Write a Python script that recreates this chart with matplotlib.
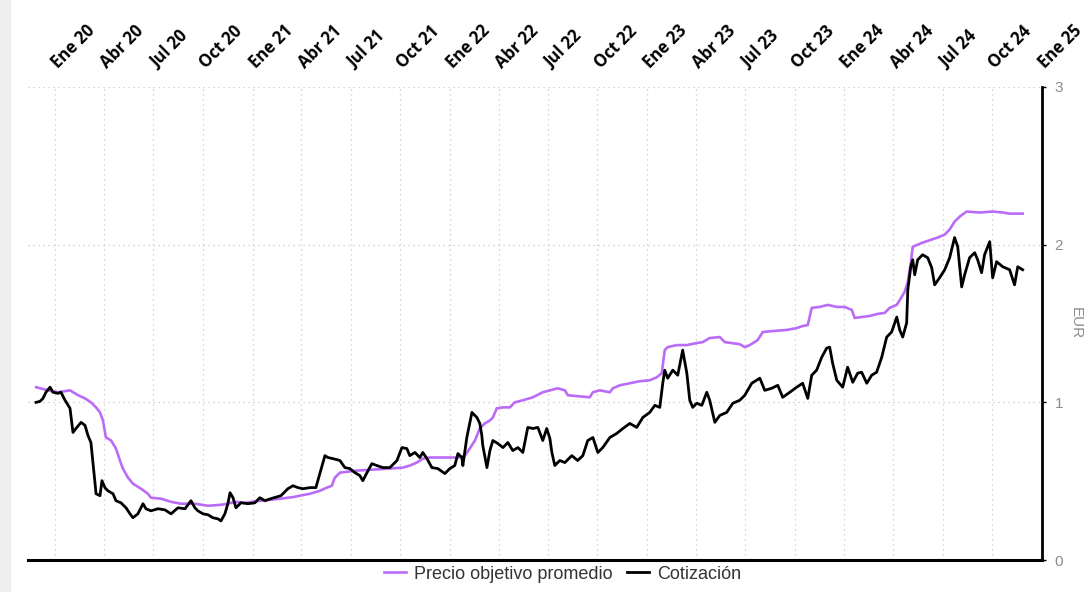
import numpy as np
import matplotlib
matplotlib.use("Agg")
import matplotlib.pyplot as plt
import matplotlib.patches as mpatches
import matplotlib.transforms as mtransforms

# ---- data (decimal years, EUR) ----
cot_t = [2019.904, 2019.924, 2019.939, 2019.954, 2019.975, 2019.990, 2020.015, 2020.030, 2020.051, 2020.076,
         2020.091, 2020.106, 2020.132, 2020.152, 2020.167, 2020.182, 2020.193, 2020.203, 2020.208, 2020.228,
         2020.238, 2020.253, 2020.268, 2020.294, 2020.309, 2020.334, 2020.360, 2020.380, 2020.395, 2020.420,
         2020.446, 2020.461, 2020.486, 2020.522, 2020.557, 2020.588, 2020.623, 2020.659, 2020.689, 2020.709,
         2020.724, 2020.750, 2020.775, 2020.800, 2020.826, 2020.841, 2020.861, 2020.876, 2020.887, 2020.902,
         2020.917, 2020.942, 2020.978, 2021.013, 2021.038, 2021.064, 2021.094, 2021.145, 2021.180, 2021.206,
         2021.231, 2021.256, 2021.292, 2021.322, 2021.342, 2021.368, 2021.383, 2021.408, 2021.444, 2021.469,
         2021.494, 2021.520, 2021.545, 2021.560, 2021.581, 2021.606, 2021.631, 2021.662, 2021.697, 2021.733,
         2021.758, 2021.783, 2021.798, 2021.824, 2021.849, 2021.864, 2021.885, 2021.910, 2021.940, 2021.976,
         2022.001, 2022.026, 2022.042, 2022.062, 2022.067, 2022.087, 2022.113, 2022.138, 2022.153, 2022.163,
         2022.168, 2022.189, 2022.204, 2022.219, 2022.244, 2022.270, 2022.295, 2022.320, 2022.346, 2022.371,
         2022.396, 2022.422, 2022.447, 2022.472, 2022.492, 2022.508, 2022.518, 2022.533, 2022.558, 2022.584,
         2022.619, 2022.649, 2022.675, 2022.700, 2022.726, 2022.751, 2022.776, 2022.812, 2022.847, 2022.878,
         2022.913, 2022.948, 2022.979, 2023.014, 2023.040, 2023.065, 2023.080, 2023.090, 2023.105, 2023.131,
         2023.156, 2023.181, 2023.202, 2023.217, 2023.232, 2023.252, 2023.278, 2023.303, 2023.318, 2023.344,
         2023.369, 2023.404, 2023.435, 2023.470, 2023.496, 2023.531, 2023.572, 2023.597, 2023.632, 2023.663,
         2023.688, 2023.724, 2023.759, 2023.789, 2023.815, 2023.835, 2023.860, 2023.886, 2023.911, 2023.926,
         2023.941, 2023.962, 2023.992, 2024.017, 2024.043, 2024.068, 2024.088, 2024.114, 2024.139, 2024.164,
         2024.190, 2024.215, 2024.240, 2024.266, 2024.281, 2024.296, 2024.316, 2024.322, 2024.337, 2024.347,
         2024.357, 2024.372, 2024.397, 2024.423, 2024.443, 2024.458, 2024.483, 2024.509, 2024.534, 2024.559,
         2024.575, 2024.595, 2024.610, 2024.635, 2024.661, 2024.676, 2024.696, 2024.711, 2024.737, 2024.752,
         2024.772, 2024.803, 2024.838, 2024.863, 2024.879, 2024.904]
cot_v = [1.000, 1.006, 1.025, 1.064, 1.096, 1.064, 1.057, 1.064, 1.013, 0.962,
         0.809, 0.834, 0.873, 0.854, 0.790, 0.745, 0.611, 0.484, 0.420, 0.408,
         0.503, 0.459, 0.439, 0.420, 0.376, 0.363, 0.331, 0.293, 0.268, 0.293,
         0.357, 0.325, 0.312, 0.325, 0.318, 0.293, 0.331, 0.325, 0.376, 0.331,
         0.312, 0.293, 0.287, 0.268, 0.261, 0.248, 0.293, 0.357, 0.427, 0.395,
         0.331, 0.363, 0.357, 0.363, 0.395, 0.376, 0.389, 0.408, 0.452, 0.471,
         0.459, 0.452, 0.459, 0.459, 0.548, 0.662, 0.650, 0.643, 0.631, 0.586,
         0.580, 0.554, 0.535, 0.503, 0.554, 0.611, 0.599, 0.586, 0.586, 0.631,
         0.713, 0.707, 0.662, 0.682, 0.650, 0.682, 0.643, 0.586, 0.580, 0.548,
         0.580, 0.599, 0.675, 0.650, 0.599, 0.777, 0.936, 0.904, 0.866, 0.790,
         0.726, 0.586, 0.694, 0.758, 0.739, 0.713, 0.745, 0.694, 0.713, 0.682,
         0.841, 0.834, 0.841, 0.758, 0.834, 0.771, 0.682, 0.599, 0.631, 0.618,
         0.662, 0.631, 0.662, 0.758, 0.777, 0.682, 0.713, 0.777, 0.803, 0.834,
         0.866, 0.841, 0.904, 0.936, 0.981, 0.968, 1.121, 1.204, 1.153, 1.204,
         1.172, 1.331, 1.185, 1.013, 0.968, 0.994, 0.981, 1.064, 1.013, 0.873,
         0.917, 0.936, 0.994, 1.013, 1.045, 1.121, 1.153, 1.076, 1.089, 1.108,
         1.032, 1.064, 1.096, 1.121, 1.025, 1.172, 1.204, 1.287, 1.344, 1.350,
         1.248, 1.140, 1.096, 1.223, 1.127, 1.185, 1.191, 1.121, 1.172, 1.191,
         1.287, 1.414, 1.446, 1.541, 1.459, 1.414, 1.503, 1.713, 1.860, 1.904,
         1.809, 1.904, 1.936, 1.917, 1.854, 1.745, 1.790, 1.841, 1.917, 2.045,
         1.987, 1.732, 1.809, 1.917, 1.949, 1.904, 1.822, 1.936, 2.019, 1.790,
         1.892, 1.860, 1.841, 1.745, 1.860, 1.841]

obj_t = [2019.904, 2019.965, 2020.015, 2020.076, 2020.117, 2020.152, 2020.182, 2020.208, 2020.228, 2020.243,
         2020.258, 2020.284, 2020.309, 2020.329, 2020.344, 2020.370, 2020.395, 2020.436, 2020.471, 2020.486,
         2020.537, 2020.588, 2020.638, 2020.709, 2020.775, 2020.841, 2020.876, 2020.912, 2020.963, 2021.044,
         2021.145, 2021.216, 2021.241, 2021.292, 2021.342, 2021.378, 2021.403, 2021.418, 2021.444, 2021.530,
         2021.611, 2021.697, 2021.763, 2021.798, 2021.834, 2021.864, 2021.900, 2021.986, 2022.052, 2022.077,
         2022.102, 2022.128, 2022.153, 2022.178, 2022.204, 2022.219, 2022.239, 2022.270, 2022.305, 2022.330,
         2022.371, 2022.422, 2022.472, 2022.508, 2022.548, 2022.584, 2022.599, 2022.660, 2022.710, 2022.726,
         2022.761, 2022.812, 2022.827, 2022.862, 2022.913, 2022.964, 2023.014, 2023.050, 2023.075, 2023.090,
         2023.105, 2023.151, 2023.202, 2023.252, 2023.283, 2023.318, 2023.369, 2023.394, 2023.430, 2023.470,
         2023.496, 2023.521, 2023.561, 2023.587, 2023.637, 2023.708, 2023.759, 2023.789, 2023.815, 2023.835,
         2023.875, 2023.916, 2023.962, 2024.002, 2024.038, 2024.053, 2024.088, 2024.129, 2024.169, 2024.205,
         2024.230, 2024.266, 2024.291, 2024.306, 2024.322, 2024.337, 2024.347, 2024.372, 2024.397, 2024.443,
         2024.473, 2024.509, 2024.534, 2024.559, 2024.585, 2024.620, 2024.686, 2024.752, 2024.803, 2024.838,
         2024.904]
obj_v = [1.096, 1.076, 1.064, 1.076, 1.045, 1.025, 1.000, 0.968, 0.936, 0.885,
         0.777, 0.758, 0.707, 0.631, 0.580, 0.522, 0.484, 0.452, 0.420, 0.395,
         0.389, 0.369, 0.357, 0.357, 0.344, 0.350, 0.357, 0.369, 0.363, 0.376,
         0.389, 0.401, 0.408, 0.420, 0.439, 0.459, 0.471, 0.522, 0.554, 0.567,
         0.573, 0.580, 0.586, 0.599, 0.618, 0.643, 0.650, 0.650, 0.650, 0.662,
         0.707, 0.758, 0.834, 0.866, 0.885, 0.904, 0.962, 0.968, 0.968, 1.000,
         1.013, 1.032, 1.064, 1.076, 1.089, 1.076, 1.045, 1.038, 1.032, 1.064,
         1.076, 1.064, 1.089, 1.108, 1.121, 1.134, 1.140, 1.159, 1.185, 1.331,
         1.350, 1.363, 1.363, 1.376, 1.382, 1.408, 1.414, 1.382, 1.376, 1.369,
         1.350, 1.363, 1.395, 1.446, 1.452, 1.459, 1.471, 1.484, 1.490, 1.599,
         1.605, 1.618, 1.605, 1.605, 1.586, 1.535, 1.541, 1.548, 1.561, 1.567,
         1.599, 1.618, 1.669, 1.701, 1.764, 1.885, 1.987, 2.000, 2.013, 2.032,
         2.045, 2.064, 2.096, 2.146, 2.178, 2.210, 2.204, 2.210, 2.204, 2.197,
         2.197]

tick_dates = ['2020-01-01', '2020-04-01', '2020-07-01', '2020-10-01', '2021-01-01', '2021-04-01',
              '2021-07-01', '2021-10-01', '2022-01-01', '2022-04-01', '2022-07-01', '2022-10-01',
              '2023-01-01', '2023-04-01', '2023-07-01', '2023-10-01', '2024-01-01', '2024-04-01',
              '2024-07-01', '2024-10-01', '2025-01-01']
tick_labels = ['Ene 20', 'Abr 20', 'Jul 20', 'Oct 20', 'Ene 21', 'Abr 21', 'Jul 21', 'Oct 21',
               'Ene 22', 'Abr 22', 'Jul 22', 'Oct 22', 'Ene 23', 'Abr 23', 'Jul 23', 'Oct 23',
               'Ene 24', 'Abr 24', 'Jul 24', 'Oct 24', 'Ene 25']


def to_dates(years):
    years = np.asarray(years)
    secs = ((years - 2020.0) * 365.25 * 86400).astype('int64')
    return np.datetime64('2020-01-01T00:00:00') + secs.astype('timedelta64[s]')


fig = plt.figure(figsize=(10.88, 5.92), dpi=100)
fig.patches.append(mpatches.Rectangle((0, 0), 10 / 1088, 1, transform=fig.transFigure,
                                      color='#efefef', zorder=0))
ax = fig.add_axes([28 / 1088, 32 / 592, (1042 - 28) / 1088, (560 - 87) / 592])

PURPLE = '#bb6cf7'
ax.plot(to_dates(obj_t), obj_v, color=PURPLE, lw=1.9, label='Precio objetivo promedio', zorder=3)
ax.plot(to_dates(cot_t), cot_v, color='black', lw=2.0, label='Cotización', zorder=4)

ax.set_ylim(0, 3)
ax.set_xlim(np.datetime64('2019-11-12'), np.datetime64('2025-01-01'))

ax.set_xticks(np.array(tick_dates, dtype='datetime64[D]'))
ax.set_xticklabels(tick_labels)
ax.xaxis.tick_top()
ax.tick_params(axis='x', length=0, pad=11)
shift = mtransforms.ScaledTranslation(6 / 100, 0, fig.dpi_scale_trans)
for lbl in ax.get_xticklabels():
    lbl.set_rotation(45)
    lbl.set_ha('left')
    lbl.set_va('bottom')
    lbl.set_rotation_mode('anchor')
    lbl.set_fontweight('bold')
    lbl.set_fontsize(12)
    lbl.set_family('Open Sans')
    lbl.set_transform(lbl.get_transform() + shift)

ax.yaxis.tick_right()
ax.set_yticks([0, 1, 2, 3])
ax.tick_params(axis='y', length=3, width=1, color='black', labelcolor='#8c8c8c',
               labelsize=11, pad=6)
for lbl in ax.get_yticklabels():
    lbl.set_family('Liberation Sans')
ax.yaxis.set_label_position('right')
ax.set_ylabel('EUR', rotation=270, color='#8c8c8c', fontsize=11, family='Liberation Sans',
              labelpad=14)

ax.grid(True, color='#c8c8c8', linestyle=(0, (1, 3)), lw=0.9)
ax.set_axisbelow(True)
for side in ['top', 'left']:
    ax.spines[side].set_visible(False)
ax.spines['bottom'].set_linewidth(2.2)
ax.spines['right'].set_linewidth(2.0)

leg = fig.legend(loc='center', bbox_to_anchor=(0.517, 0.030), ncol=2, frameon=False,
                 prop={'family': 'Liberation Sans', 'size': 13}, handlelength=1.2,
                 columnspacing=0.8, handletextpad=0.45)
for txt in leg.get_texts():
    txt.set_color('#333333')

fig.savefig('out.png', dpi=100)
